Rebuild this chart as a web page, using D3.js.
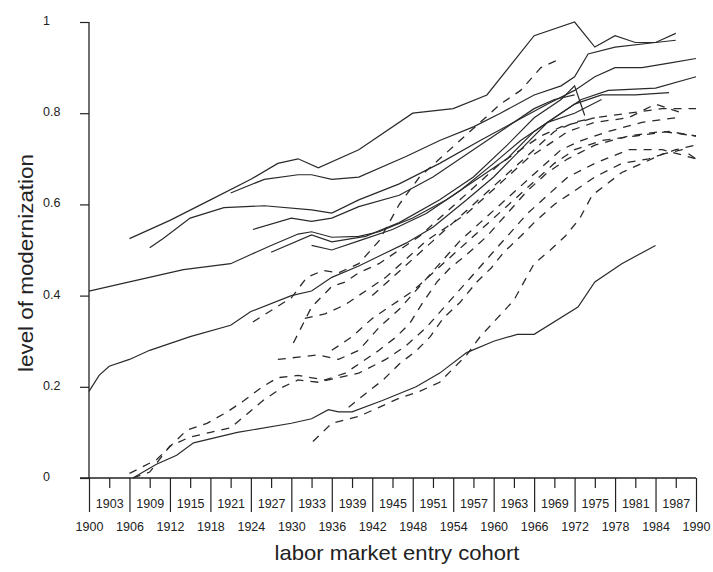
<!DOCTYPE html>
<html>
<head>
<meta charset="utf-8">
<script src="https://cdn.jsdelivr.net/npm/d3@7"></script>
<style>
  body { margin: 0; background: #fff; }
  svg text { font-family: "Liberation Sans", Arial, sans-serif; fill: #222; }
</style>
</head>
<body>
<div id="chart"></div>
<script>
// cohort (year) / level of modernization pairs
const solidA = [[1906,.525],[1912,.565],[1918,.61],[1924,.655],[1928,.69],[1931,.70],[1934,.68],[1940,.72],[1948,.80],[1954,.81],[1959,.84],[1966,.97],[1972,1.0],[1975,.945],[1978,.97],[1981,.955],[1984,.955],[1987,.975]]
const solidB = [[1921,.625],[1926,.655],[1931,.665],[1933,.665],[1936,.655],[1940,.66],[1947,.705],[1952,.74],[1957,.77],[1961,.80],[1966,.84],[1970,.86],[1972,.88],[1974,.93],[1978,.945],[1984,.955],[1987,.96]]
const solidC = [[1909,.505],[1911,.525],[1915,.57],[1920,.593],[1926,.597],[1933,.588],[1936,.581],[1940,.61],[1946,.645],[1952,.69],[1958,.74],[1963,.78],[1968,.82],[1972,.85],[1975,.88],[1978,.90],[1982,.90],[1986,.91],[1990,.92]]
const solidD = [[1900,.41],[1906,.43],[1914,.457],[1921,.47],[1924,.49],[1927,.51],[1931,.535],[1933,.54],[1936,.528],[1940,.53],[1943,.54],[1948,.57],[1953,.61],[1958,.66],[1962,.70],[1966,.76],[1970,.80],[1973,.83],[1977,.85],[1984,.855],[1990,.88]]
const solidE = [[1900,.19],[1901.5,.225],[1903,.245],[1906,.26],[1909,.28],[1915,.31],[1921,.335],[1924,.365],[1930,.40],[1933,.41],[1936,.44],[1940,.465],[1943.5,.49],[1947,.515],[1951,.55],[1956,.61],[1960,.66],[1964,.72],[1968,.78],[1972,.82],[1976,.84],[1981,.84],[1986,.845]]
const solidF = [[1906.5,0],[1910,.03],[1913,.05],[1915.5,.077],[1922,.10],[1930,.12],[1933,.13],[1935.5,.15],[1937,.145],[1939,.145],[1943.5,.17],[1948.5,.20],[1952,.23],[1956,.275],[1960,.30],[1963.5,.315],[1966,.315],[1972.5,.375],[1975,.43],[1979,.47],[1984,.51]]
const solidG = [[1924.3,.545],[1930,.57],[1933,.563],[1936,.57],[1940,.595],[1946,.62],[1951,.66],[1956,.71],[1961,.76],[1966,.81],[1969,.83],[1972,.84]]
const solidH = [[1927,.495],[1933,.533],[1936,.518],[1941,.53],[1946,.56],[1952,.61],[1957,.66],[1962,.73],[1966,.79],[1970,.83],[1972,.86],[1973.5,.795]]
const solidI = [[1933,.51],[1936,.50],[1940,.52],[1945,.545],[1950,.58],[1955,.63],[1960,.69],[1964,.74],[1968,.78],[1972,.80],[1976,.83]]

const dashed1 = [[1906,.01],[1910,.04],[1914.5,.105],[1917.5,.12],[1920.5,.145],[1923,.17],[1925.7,.20],[1928,.22],[1931,.225],[1935,.215],[1938,.23],[1940,.25],[1943,.28],[1945.6,.31],[1947.6,.34],[1949.5,.385],[1951.6,.43],[1953.5,.46],[1956,.49],[1959,.53],[1962,.58],[1965,.63],[1968,.67],[1971,.70],[1975,.73],[1980,.75],[1985,.76],[1990,.75]]
const dashed2 = [[1906.5,0],[1909,.013],[1912,.07],[1915,.09],[1918,.10],[1921,.11],[1923.4,.14],[1925.8,.17],[1928.8,.20],[1931,.215],[1934,.21],[1937,.22],[1940,.23],[1944,.26],[1947,.29],[1950,.33],[1953,.38],[1956,.43],[1959,.48],[1962,.53],[1965,.58],[1968,.62],[1971,.66],[1975,.69],[1980,.72],[1985,.72],[1990,.70]]
const dashed3 = [[1933.2,.08],[1936,.12],[1940,.135],[1943,.155],[1946,.175],[1949,.19],[1952,.21],[1954,.24],[1956,.27],[1958,.31],[1960.5,.35],[1963,.39],[1964.5,.43],[1966,.47],[1968.4,.50],[1970.6,.53],[1972.8,.57],[1974.6,.62],[1976.8,.645],[1979,.67],[1982,.69],[1985,.71],[1988,.72],[1990,.70]]
const dashed4 = [[1930.3,.296],[1933,.375],[1936,.42],[1938,.43],[1940,.45],[1943,.47],[1946,.50],[1949,.53],[1952,.57],[1955,.61],[1958,.65],[1961,.69],[1964,.72],[1967,.75],[1970,.77],[1975,.79],[1980,.80],[1985,.81],[1990,.81]]
const dashed5 = [[1924.3,.342],[1927.3,.37],[1930,.395],[1932.3,.44],[1934.7,.455],[1937,.45],[1940,.47],[1943,.52],[1946,.60],[1949,.66],[1952,.70],[1955,.74],[1958,.78],[1961,.82],[1964,.85],[1967,.90],[1970,.92]]
const dashed6 = [[1928,.26],[1931,.265],[1934,.27],[1937,.26],[1940,.28],[1943,.33],[1946,.37],[1949,.42],[1952,.47],[1955,.52],[1958,.56],[1961,.60],[1964,.64],[1967,.68],[1970,.72],[1973,.74],[1977,.76],[1982,.78],[1987,.79]]
const dashed7 = [[1932,.35],[1935,.36],[1938,.38],[1941,.41],[1944,.44],[1947,.48],[1950,.52],[1953,.55],[1956,.58],[1959,.62],[1962,.66],[1965,.70],[1968,.73],[1971,.76],[1975,.78],[1980,.79],[1984,.82],[1988,.80]]
const dashed8 = [[1938.5,.155],[1941,.185],[1943.6,.215],[1946,.25],[1948.6,.28],[1950.6,.31],[1952.5,.35],[1955,.385],[1957.5,.43],[1959.6,.46],[1961.5,.495],[1964,.53],[1966,.56],[1969,.60],[1972,.63],[1975,.66],[1979,.69],[1983,.70],[1987,.72],[1990,.73]]
const dashed9 = [[1936,.28],[1939,.31],[1942,.35],[1945,.38],[1948,.41],[1951,.45],[1954,.49],[1957,.53],[1960,.57],[1963,.61],[1966,.65],[1969,.69],[1972,.72],[1976,.74],[1981,.75],[1986,.76],[1990,.75]]
const dashed10 = [[1942,.40],[1945,.44],[1948,.48],[1951,.52],[1954,.56],[1957,.60],[1960,.64],[1963,.68],[1966,.72],[1969,.76],[1972,.78],[1975,.79]]

const solidLines = [solidA, solidB, solidC, solidD, solidE, solidF, solidG, solidH, solidI]
const dashedLines = [dashed1, dashed2, dashed3, dashed4, dashed5, dashed6, dashed7, dashed8, dashed9, dashed10]

const yTicks = [0, 0.2, 0.4, 0.6, 0.8, 1]
const yTickLabels = ["0", "0.2", "0.4", "0.6", "0.8", "1"]
const majorYears = d3.range(1900, 1991, 6)   // 1900, 1906, ... 1990
const minorYears = d3.range(1903, 1990, 6)   // 1903, 1909, ... 1987

var width = 713, height = 572

var svg = d3.select('#chart')
  .append('svg')
  .attr('width', width)
  .attr('height', height)

var x = d3.scaleLinear().domain([1900, 1990]).range([89, 696])
var y = d3.scaleLinear().domain([0, 1]).range([478, 22])

// y axis
var yAxis = d3.axisLeft(y)
  .tickValues(yTicks)
  .tickSize(9)
  .tickFormat((d, i) => yTickLabels[i])
var gy = svg.append('g')
  .attr('transform', 'translate(' + x(1900) + ',0)')
  .call(yAxis)
gy.select('.domain').attr('d', 'M0,' + y(1) + 'V' + y(0))
gy.selectAll('line').attr('stroke', '#222').attr('stroke-width', 1.2)
gy.selectAll('path').attr('stroke', '#222').attr('stroke-width', 1.3)
gy.selectAll('text')
  .attr('x', 43 - x(1900))
  .attr('dy', '0.2em')
  .attr('text-anchor', 'start')
  .style('font-size', '12.5px')
  .attr('fill', '#222')

// x axis: long ticks every 6 years, short ones in between
var gx = svg.append('g')
  .attr('transform', 'translate(0,' + y(0) + ')')
  .call(d3.axisBottom(x).tickValues(majorYears).tickSize(34).tickFormat(d3.format('d')))
gx.select('.domain').attr('d', 'M80,0H' + x(1990))
gx.selectAll('line').attr('stroke', '#222').attr('stroke-width', 1.2)
gx.selectAll('path').attr('stroke', '#222').attr('stroke-width', 1.3)
gx.selectAll('text').attr('y', 53).attr('dy', 0).style('font-size', '12.5px').attr('fill', '#222')

var gx2 = svg.append('g')
  .attr('transform', 'translate(0,' + y(0) + ')')
  .call(d3.axisBottom(x).tickValues(minorYears).tickSize(10).tickFormat(d3.format('d')))
gx2.select('.domain').remove()
gx2.selectAll('line').attr('stroke', '#222').attr('stroke-width', 1.2)
gx2.selectAll('text').attr('y', 30).attr('dy', 0).style('font-size', '12.5px').attr('fill', '#222')

// series
var line = d3.line()
  .x(d => x(d[0]))
  .y(d => y(d[1]))

svg.append('g')
  .selectAll('path')
  .data(solidLines)
  .enter()
  .append('path')
  .attr('d', line)
  .attr('fill', 'none')
  .attr('stroke', '#2a2a2a')
  .attr('stroke-width', 1.2)

svg.append('g')
  .selectAll('path')
  .data(dashedLines)
  .enter()
  .append('path')
  .attr('d', line)
  .attr('fill', 'none')
  .attr('stroke', '#2a2a2a')
  .attr('stroke-width', 1.3)
  .attr('stroke-dasharray', '8,7')

// axis titles
svg.append('text')
  .attr('x', 397)
  .attr('y', 560)
  .attr('text-anchor', 'middle')
  .attr('textLength', 245)
  .attr('lengthAdjust', 'spacingAndGlyphs')
  .style('font-size', '21px')
  .text('labor market entry cohort')

svg.append('text')
  .attr('transform', 'translate(33,263) rotate(-90)')
  .attr('text-anchor', 'middle')
  .attr('textLength', 218)
  .attr('lengthAdjust', 'spacingAndGlyphs')
  .style('font-size', '21px')
  .text('level of modernization')
</script>
</body>
</html>
